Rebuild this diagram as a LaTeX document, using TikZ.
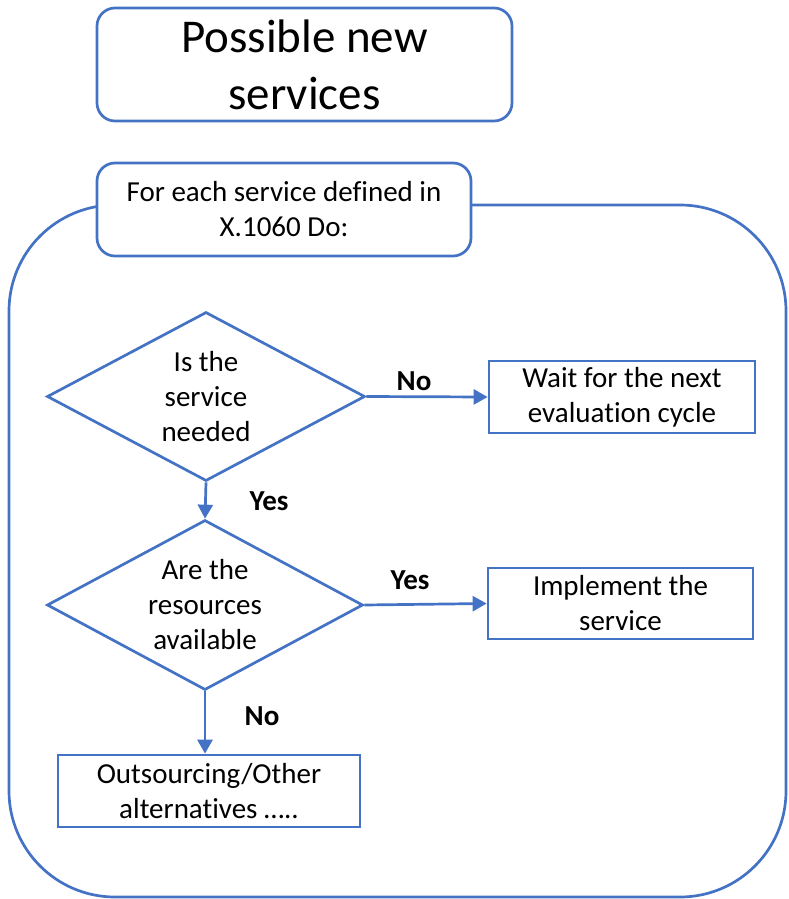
\documentclass[tikz,border=0pt]{standalone}
\usepackage{fontspec}
\setmainfont{Carlito}[Ligatures={NoCommon}]
\usetikzlibrary{shapes.geometric,arrows.meta}
\definecolor{obl}{HTML}{4472C4}
\tikzset{
  ln/.style={draw=obl, line width=2.7pt},
  txt/.style={font=\fontsize{29}{35}\selectfont, align=center},
  rbox/.style={ln, txt, fill=white, rounded corners=18pt, inner sep=0pt},
  sbox/.style={ln, txt, fill=white, rectangle, inner sep=0pt},
  dec/.style={ln, txt, fill=white, diamond, inner sep=0pt, shape aspect=1.88},
  arr/.style={ln, -{Triangle[length=14pt,width=15pt]}},
  lab/.style={font=\fontsize{29}{35}\selectfont\bfseries}
}
\begin{document}
\begin{tikzpicture}[x=1pt,y=-1pt]
\useasboundingbox (0,0) rectangle (788,899);
% loop container
\draw[ln, rounded corners=106pt] (9,205) rectangle (786,897);
% nodes
\node[rbox, minimum width=415pt, minimum height=113pt, font=\fontsize{47}{57}\selectfont] (title) at (304.5,64.5) {Possible new\\services};
\node[rbox, minimum width=374pt, minimum height=93pt] (loop) at (284,209.5) {For each service defined in\\X.1060 Do:};
\node[dec, minimum width=318pt, minimum height=169pt] (d1) at (206,396.5) {Is the\\service\\needed};
\node[dec, minimum width=316pt, minimum height=170pt] (d2) at (205,605) {Are the\\resources\\available};
\node[sbox, minimum width=266pt, minimum height=72pt] (wait) at (622,397) {Wait for the next\\evaluation cycle};
\node[sbox, minimum width=265pt, minimum height=71pt] (impl) at (620.5,603.5) {Implement the\\service};
\node[sbox, minimum width=302pt, minimum height=72pt] (out) at (209,791) {Outsourcing/Other\\alternatives …..};
% connectors
\draw[arr] (d1.east) -- (wait.west);
\draw[arr] (d2.east) -- (impl.west);
\draw[arr] (d1.south) -- (d2.north);
\draw[arr] (d2.south) -- (d2.south |- out.north);
% labels
\node[lab] (l1) at (414,381) {No};
\node[lab] (l2) at (410,580) {Yes};
\node[lab] (l3) at (269,501) {Yes};
\node[lab] (l4) at (262,716) {No};
\end{tikzpicture}
\end{document}
